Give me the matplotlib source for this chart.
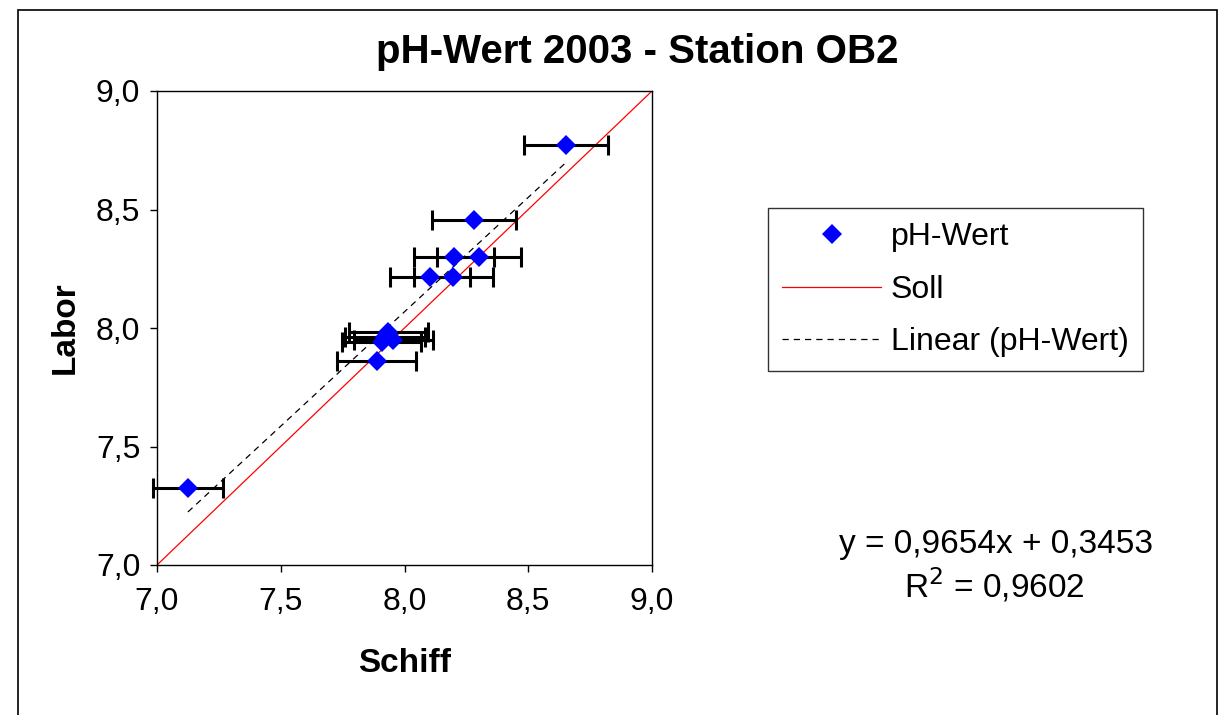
import numpy as np
import matplotlib.pyplot as plt
from matplotlib.lines import Line2D
from matplotlib.patches import Rectangle

plt.rcParams['font.family'] = ['Liberation Sans', 'DejaVu Sans']

# Schiff (x) vs Labor (y) pH values
schiff = [7.125, 7.888, 7.908, 7.921, 7.935, 7.955, 8.103, 8.197, 8.200, 8.301, 8.281, 8.652]
labor = [7.325, 7.861, 7.942, 7.962, 7.984, 7.949, 8.216, 8.216, 8.301, 8.301, 8.456, 8.772]
schiff_err = [0.14, 0.16, 0.16, 0.16, 0.16, 0.16, 0.16, 0.16, 0.16, 0.17, 0.17, 0.17]

soll = [7.0, 9.0]
slope = 0.9654
intercept = 0.3453
r2 = 0.9602

ticks = [7.0, 7.5, 8.0, 8.5, 9.0]
tick_labels = ['7,0', '7,5', '8,0', '8,5', '9,0']


def main():
    fig = plt.figure(figsize=(12.26, 7.15), dpi=100)
    ax = fig.add_axes([157 / 1226, 1 - 565 / 715, 495 / 1226, 474 / 715])

    # outer chart frame
    fig.patches.append(Rectangle((18 / 1226, -0.02), 1199 / 1226, 1.02 - 10 / 715,
                                 transform=fig.transFigure, fill=False,
                                 edgecolor='black', linewidth=1.2))

    ax.plot(soll, soll, color='red', linewidth=0.9, zorder=2)

    xs = np.array([min(schiff), max(schiff)])
    ax.plot(xs, slope * xs + intercept, color='black', linestyle=(0, (5, 4)),
            linewidth=0.9, zorder=2)

    eb = ax.errorbar(schiff, labor, xerr=schiff_err, fmt='none', ecolor='black',
                     elinewidth=2.2, capsize=7, capthick=2.2, zorder=3)
    for part in eb.lines[1] + eb.lines[2]:
        part.set_clip_on(False)
    ax.plot(schiff, labor, linestyle='none', marker='D', markersize=10.5,
            color='#0000ff', markeredgewidth=0, zorder=4, clip_on=False)

    ax.set_xlim(7, 9)
    ax.set_ylim(7, 9)
    ax.set_xticks(ticks)
    ax.set_xticklabels(tick_labels)
    ax.set_yticks(ticks)
    ax.set_yticklabels(tick_labels)
    ax.tick_params(direction='out', length=5, width=1, labelsize=23, pad=7)
    ax.tick_params(axis='x', pad=11)
    for s in ax.spines.values():
        s.set_linewidth(1)

    ax.set_xlabel('Schiff', fontsize=24, fontweight='bold', labelpad=22)
    ax.set_ylabel('Labor', fontsize=24, fontweight='bold', labelpad=11)
    fig.text(637 / 1226, 1 - 52 / 715, 'pH-Wert 2003 - Station OB2', fontsize=29,
             fontweight='bold', ha='center', va='center')

    handles = [
        Line2D([], [], linestyle='none', marker='D', markersize=10.5, color='#0000ff',
               markeredgewidth=0),
        Line2D([], [], color='red', linewidth=0.9),
        Line2D([], [], color='black', linestyle=(0, (5, 4)), linewidth=0.9),
    ]
    leg = fig.legend(handles, ['pH-Wert', 'Soll', 'Linear (pH-Wert)'],
                     loc='upper left',
                     bbox_to_anchor=(768 / 1226, 1 - 208 / 715),
                     fontsize=23, frameon=True, fancybox=False, edgecolor='black',
                     handlelength=3.1, handletextpad=0.3, labelspacing=0.7,
                     borderpad=0.45, borderaxespad=0)
    leg.get_frame().set_linewidth(1)

    fig.text(996 / 1226, 1 - 545 / 715, 'y = 0,9654x + 0,3453', fontsize=24,
             ha='center', va='center')
    fig.text(994 / 1226, 1 - 585 / 715, 'R$^2$ = 0,9602', fontsize=24,
             ha='center', va='center')

    fig.savefig('out.png', dpi=100)


if __name__ == '__main__':
    main()
